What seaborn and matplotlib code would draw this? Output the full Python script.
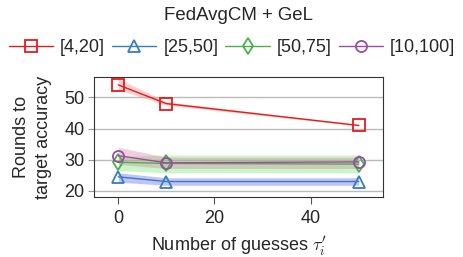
import numpy as np
import pandas as pd
import seaborn as sns
import matplotlib.pyplot as plt

guesses = [0, 10, 50]
series = ["[4,20]", "[25,50]", "[50,75]", "[10,100]"]
mean_vals = {
    "[4,20]": [54.0, 48.0, 41.0],
    "[25,50]": [24.5, 23.0, 23.0],
    "[50,75]": [29.2, 28.8, 28.6],
    "[10,100]": [31.3, 29.0, 29.3],
}
low_vals = {
    "[4,20]": [52.5, 47.5, 40.8],
    "[25,50]": [22.8, 21.8, 21.8],
    "[50,75]": [26.5, 25.8, 25.8],
    "[10,100]": [28.5, 27.2, 27.2],
}
high_vals = {
    "[4,20]": [56.0, 48.6, 41.2],
    "[25,50]": [25.8, 24.2, 24.2],
    "[50,75]": [31.0, 31.5, 31.5],
    "[10,100]": [34.0, 30.8, 30.8],
}
line_colors = ["#e41a1c", "#377eb8", "#4daf4a", "#984ea3"]
band_colors = ["#f08080", "#6060f0", "#70e870", "#d880a8"]
markers = ["s", "^", "d", "o"]

sns.set_style("ticks")
plt.rcParams['font.family'] = ['Liberation Sans', 'DejaVu Sans']
plt.rcParams['mathtext.fontset'] = 'cm'
fs = 13

df = pd.DataFrame([
    {"guesses": g, "rounds": mean_vals[s][k], "range": s}
    for s in series for k, g in enumerate(guesses)
])

fig, ax = plt.subplots(figsize=(4.64, 2.57), dpi=100)
fig.subplots_adjust(left=0.203, right=0.825, bottom=0.233, top=0.70)

for i, s in enumerate(series):
    ax.fill_between(guesses, low_vals[s], high_vals[s], color=band_colors[i],
                    alpha=0.38, linewidth=0, zorder=1)

sns.lineplot(data=df, x="guesses", y="rounds", hue="range", style="range",
             hue_order=series, style_order=series, palette=line_colors,
             markers=markers, dashes=False, markersize=8, linewidth=1,
             markerfacecolor="none", markeredgewidth=1.3, ax=ax, zorder=3)

for ln, c in zip(ax.lines, line_colors):
    ln.set_markeredgecolor(c)

ax.set_xlim(-5, 55)
ax.set_ylim(18, 56.5)
ax.set_xticks([0, 20, 40])
ax.set_yticks([20, 30, 40, 50])
ax.grid(axis="y", color="#bbbbbb", linewidth=1)
ax.tick_params(axis="y", length=4, color="#999999", labelsize=fs, pad=3)
ax.tick_params(axis="x", length=5, color="#555555", labelsize=fs, pad=4)
for sp in ax.spines.values():
    sp.set_linewidth(0.8)
    sp.set_color("#333333")

ax.set_xlabel(r"Number of guesses $\tau_i'$", fontsize=fs, labelpad=6)
ax.set_ylabel("Rounds to\ntarget accuracy", fontsize=fs, labelpad=9,
              linespacing=1.35)

handles, labels = ax.get_legend_handles_labels()
for h, c in zip(handles, line_colors):
    h.set_markerfacecolor("none")
    h.set_markeredgecolor(c)
ax.legend(handles, labels, loc="center", bbox_to_anchor=(0.5, 1 - 48 / 257),
          bbox_transform=fig.transFigure,
          ncol=4, frameon=False, fontsize=fs, handlelength=2.45,
          columnspacing=0.39, handletextpad=0.39, borderaxespad=0)
fig.text(238.5 / 464, 1 - 15 / 257, "FedAvgCM + GeL", fontsize=13.4,
         ha="center", va="center")

fig.savefig("out.png", dpi=100)
